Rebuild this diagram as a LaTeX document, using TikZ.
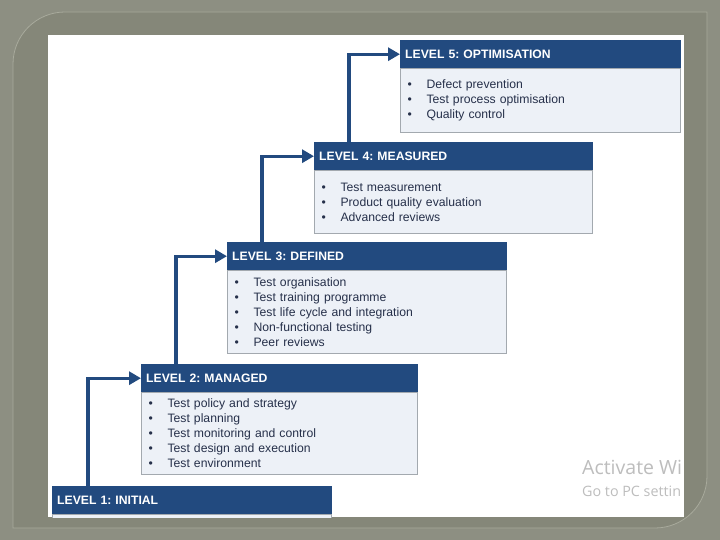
\documentclass[tikz,border=0pt]{standalone}
\usepackage{fontspec}
\setmainfont{Liberation Sans}
\newfontfamily\wmfont{Open Sans}
\usetikzlibrary{arrows.meta}
\definecolor{hdr}{HTML}{224A7F}
\definecolor{bodyfill}{HTML}{EDF1F7}
\definecolor{bodyline}{HTML}{A3A9AF}
\definecolor{bodytext}{HTML}{26304A}
\definecolor{outerbg}{HTML}{8D8F82}
\definecolor{innerbg}{HTML}{858779}
\definecolor{frameline}{HTML}{A8AA9C}
\definecolor{wm}{HTML}{BDBDBD}
\newcommand\itm[1]{\makebox[19pt][l]{\textbullet}#1}
\frenchspacing
\begin{document}
\begin{tikzpicture}[x=1pt,y=-1pt,
  hdrbox/.style={fill=hdr, draw=hdr, anchor=north west, minimum height=28pt,
    text=white, font=\bfseries\fontsize{12.2}{14}\selectfont, inner xsep=5pt,
    inner ysep=0pt, text height=9pt, text depth=0pt, align=left},
  bodybox/.style={fill=bodyfill, draw=bodyline, line width=1.1pt, anchor=north west,
    text=bodytext, font=\fontsize{12.2}{15}\selectfont, inner xsep=7pt,
    inner ysep=0pt, align=left},
  flow/.style={draw=hdr, line width=3.3pt, -{Triangle[length=12pt,width=13pt]}},
  wmtext/.style={text=wm, anchor=west, inner sep=0pt}]
\useasboundingbox (0,0) rectangle (720,540);
% background
\fill[outerbg] (0,0) rectangle (720,540);
\filldraw[fill=innerbg, draw=frameline, line width=0.8pt]
  (13,528) -- (13,64) arc[start angle=180, end angle=270, radius=52]
  -- (707,12) -- (707,476) arc[start angle=0, end angle=90, radius=52] -- cycle;
\fill[white] (48,35) rectangle (684,517);
\begin{scope}
\clip (48,35) rectangle (684,517);
% Level 5
\node[hdrbox, text width=270pt] (h5) at (400,40) {LEVEL 5: OPTIMISATION};
\node[bodybox, text width=266pt, minimum height=64pt] (b5) at (400,68)
  {\itm{Defect prevention}\\ \itm{Test process optimisation}\\ \itm{Quality control}};
% Level 4
\node[hdrbox, text width=268pt] (h4) at (314,142) {LEVEL 4: MEASURED};
\node[bodybox, text width=264pt, minimum height=63pt] (b4) at (314,170)
  {\itm{Test measurement}\\ \itm{Product quality evaluation}\\ \itm{Advanced reviews}};
% Level 3
\node[hdrbox, text width=269pt] (h3) at (227,242) {LEVEL 3: DEFINED};
\node[bodybox, text width=265pt, minimum height=83pt] (b3) at (227,270)
  {\itm{Test organisation}\\ \itm{Test training programme}\\ \itm{Test life cycle and integration}\\ \itm{Non-functional testing}\\ \itm{Peer reviews}};
% Level 2
\node[hdrbox, text width=266pt] (h2) at (141,364) {LEVEL 2: MANAGED};
\node[bodybox, text width=262pt, minimum height=82pt] (b2) at (141,392)
  {\itm{Test policy and strategy}\\ \itm{Test planning}\\ \itm{Test monitoring and control}\\ \itm{Test design and execution}\\ \itm{Test environment}};
% Level 1
\node[hdrbox, text width=269pt] (h1) at (52,486) {LEVEL 1: INITIAL};
\node[bodybox, text width=265pt, minimum height=20pt] (b1) at (52,514) {};
% connectors
\draw[flow] ([xshift=36pt]h1.north west) |- (h2.west);
\draw[flow] ([xshift=35pt]h2.north west) |- (h3.west);
\draw[flow] ([xshift=35pt]h3.north west) |- (h4.west);
\draw[flow] ([xshift=35pt]h4.north west) |- (h5.west);
\end{scope}
% watermark (as visible in the reference)
\node[wmtext, font=\wmfont\fontsize{19.5}{21}\selectfont] (wm1) at (582,467) {Activate Wi};
\node[wmtext, font=\wmfont\fontsize{14.3}{16}\selectfont] (wm2) at (582,491) {Go to PC settin};
\end{tikzpicture}
\end{document}
